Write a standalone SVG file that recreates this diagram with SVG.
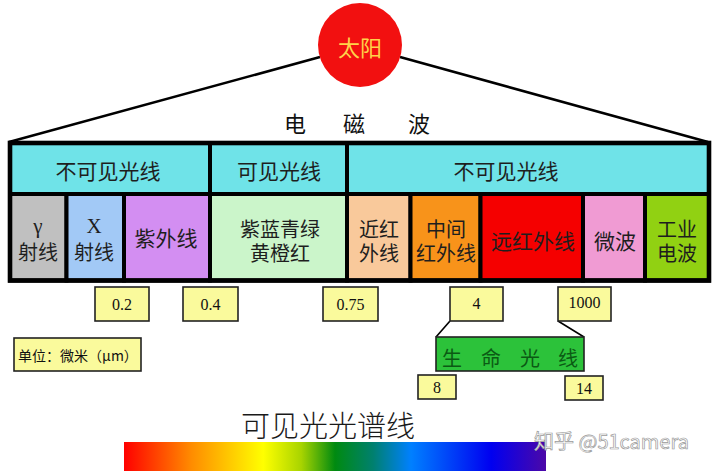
<svg xmlns="http://www.w3.org/2000/svg" width="720" height="471" viewBox="0 0 720 471">
<defs>
<linearGradient id="spec" x1="0" y1="0" x2="1" y2="0">
<stop offset="0" stop-color="#ff0000"/>
<stop offset="0.16" stop-color="#ff8c00"/>
<stop offset="0.33" stop-color="#ffff00"/>
<stop offset="0.42" stop-color="#a8d400"/>
<stop offset="0.5" stop-color="#008a10"/>
<stop offset="0.59" stop-color="#00806e"/>
<stop offset="0.68" stop-color="#0080ff"/>
<stop offset="0.87" stop-color="#0000f0"/>
<stop offset="1" stop-color="#4c08a8"/>
</linearGradient>
<style>
.cjk{font-family:"Noto Sans CJK SC","Noto Sans",sans-serif;}
.ser{font-family:"Liberation Serif","DejaVu Serif",serif;}
.cell{stroke:#000;stroke-width:4;}
.hd{fill:#6fe3e8;}
.t{font-size:21px;fill:#1e1e1e;text-anchor:middle;dominant-baseline:central;}
.t2{font-size:20px;}
.yb{fill:#fafa9c;stroke:#222;stroke-width:1.6;}
.num{font-size:16px;fill:#111;text-anchor:middle;dominant-baseline:central;}
.conn{stroke:#000;fill:none;}
</style>
</defs>
<rect x="0" y="0" width="720" height="471" fill="#ffffff"/>

<g id="connectors">
<line class="conn" x1="320" y1="57" x2="9" y2="142" stroke-width="2.6"/>
<line class="conn" x1="400" y1="57" x2="708" y2="142" stroke-width="2.6"/>
<line class="conn" x1="450" y1="321" x2="436" y2="337" stroke-width="1.6"/>
<line class="conn" x1="558" y1="321" x2="584" y2="337" stroke-width="1.6"/>
</g>

<g id="sun">
<circle cx="360" cy="45" r="42" fill="#f21010"/>
<text class="cjk" x="360" y="46" font-size="22" fill="#ffd24a" text-anchor="middle" dominant-baseline="central">太阳</text>
</g>

<g id="title-em">
<text class="cjk" y="122" font-size="22" fill="#111" dominant-baseline="central"><tspan x="284">电</tspan><tspan x="343">磁</tspan><tspan x="408">波</tspan></text>
</g>

<g id="table">
<g id="h-invisible-1"><rect class="cell hd" x="10" y="143" width="200" height="51"/><text class="cjk t" x="108" y="170">不可见光线</text></g>
<g id="h-visible"><rect class="cell hd" x="210" y="143" width="137" height="51"/><text class="cjk t" x="279" y="170">可见光线</text></g>
<g id="h-invisible-2"><rect class="cell hd" x="347" y="143" width="362" height="51"/><text class="cjk t" x="506" y="170">不可见光线</text></g>

<g id="gamma"><rect class="cell" fill="#c0c0c0" x="10" y="194" width="56.5" height="86.5"/>
<text class="ser t" x="38" y="226" font-size="20">γ</text>
<text class="cjk t t2" x="38" y="251">射线</text></g>
<g id="xray"><rect class="cell" fill="#a2c9f6" x="66.5" y="194" width="57.5" height="86.5"/>
<text class="ser t" x="94" y="226" font-size="20">X</text>
<text class="cjk t t2" x="94" y="251">射线</text></g>
<g id="uv"><rect class="cell" fill="#d38ef2" x="124" y="194" width="86" height="86.5"/>
<text class="cjk t" x="166" y="237" fill="#4b1d5c">紫外线</text></g>
<g id="visible"><rect class="cell" fill="#cbf5ca" x="210" y="194" width="137" height="86.5"/>
<text class="cjk t t2"><tspan x="280" y="228">紫蓝青绿</tspan><tspan x="280" dy="24">黄橙红</tspan></text></g>
<g id="near-ir"><rect class="cell" fill="#f9c99b" x="347" y="194" width="63.5" height="86.5"/>
<text class="cjk t t2"><tspan x="379" y="228">近红</tspan><tspan x="379" dy="24">外线</tspan></text></g>
<g id="mid-ir"><rect class="cell" fill="#f8931a" x="410.5" y="194" width="70" height="86.5"/>
<text class="cjk t t2" fill="#3a2200"><tspan x="446" y="228">中间</tspan><tspan x="446" dy="24">红外线</tspan></text></g>
<g id="far-ir"><rect class="cell" fill="#f50000" x="480.5" y="194" width="102.5" height="86.5"/>
<text class="cjk t" x="533" y="240" fill="#8a0000">远红外线</text></g>
<g id="microwave"><rect class="cell" fill="#f09bd3" x="583" y="194" width="62" height="86.5"/>
<text class="cjk t" x="615" y="240" fill="#2a1a24">微波</text></g>
<g id="radio"><rect class="cell" fill="#91d112" x="645" y="194" width="64" height="86.5"/>
<text class="cjk t t2" fill="#163f1a"><tspan x="677" y="228">工业</tspan><tspan x="677" dy="24">电波</tspan></text></g>
<rect x="10" y="143" width="699" height="137.5" fill="none" stroke="#000" stroke-width="4.6"/>
</g>

<g id="n-0-2"><rect class="yb" x="95" y="287" width="54" height="34"/><text class="ser num" x="122" y="304">0.2</text></g>
<g id="n-0-4"><rect class="yb" x="183" y="287" width="55" height="34"/><text class="ser num" x="210.5" y="304">0.4</text></g>
<g id="n-0-75"><rect class="yb" x="323" y="287" width="55" height="34"/><text class="ser num" x="350.5" y="304">0.75</text></g>
<g id="n-4"><rect class="yb" x="450" y="287" width="53" height="34"/><text class="ser num" x="476.5" y="303">4</text></g>
<g id="n-1000"><rect class="yb" x="558" y="287" width="53" height="34"/><text class="ser num" x="584.5" y="302">1000</text></g>
<g id="unit"><rect class="yb" x="14" y="338" width="127" height="33"/><text class="cjk" x="78" y="354.5" font-size="14" fill="#111" text-anchor="middle" dominant-baseline="central">单位：微米（μm）</text></g>

<g id="life-ray">
<rect x="436" y="337" width="148" height="34" fill="#2cc23a" stroke="#222" stroke-width="1.6"/>
<text class="cjk" y="357" font-size="20" fill="#0b5a14" dominant-baseline="central"><tspan x="442">生</tspan><tspan x="481">命</tspan><tspan x="520">光</tspan><tspan x="558">线</tspan></text>
</g>
<g id="n-8"><rect class="yb" x="418" y="375" width="38" height="24"/><text class="ser num" x="437" y="387" font-size="21">8</text></g>
<g id="n-14"><rect class="yb" x="565" y="376" width="38" height="24"/><text class="ser num" x="584" y="388.5" font-size="19">14</text></g>

<g id="spectrum">
<text class="cjk" x="241" y="424" font-size="29" font-weight="300" fill="#1a1a1a" dominant-baseline="central">可见光光谱线</text>
<rect x="124" y="442" width="422" height="29" fill="url(#spec)"/>
</g>

<text class="cjk" x="534" y="449" font-size="20" fill="#ffffff" stroke="#9a9a9a" stroke-width="0.7">知乎 @51camera</text>
</svg>
